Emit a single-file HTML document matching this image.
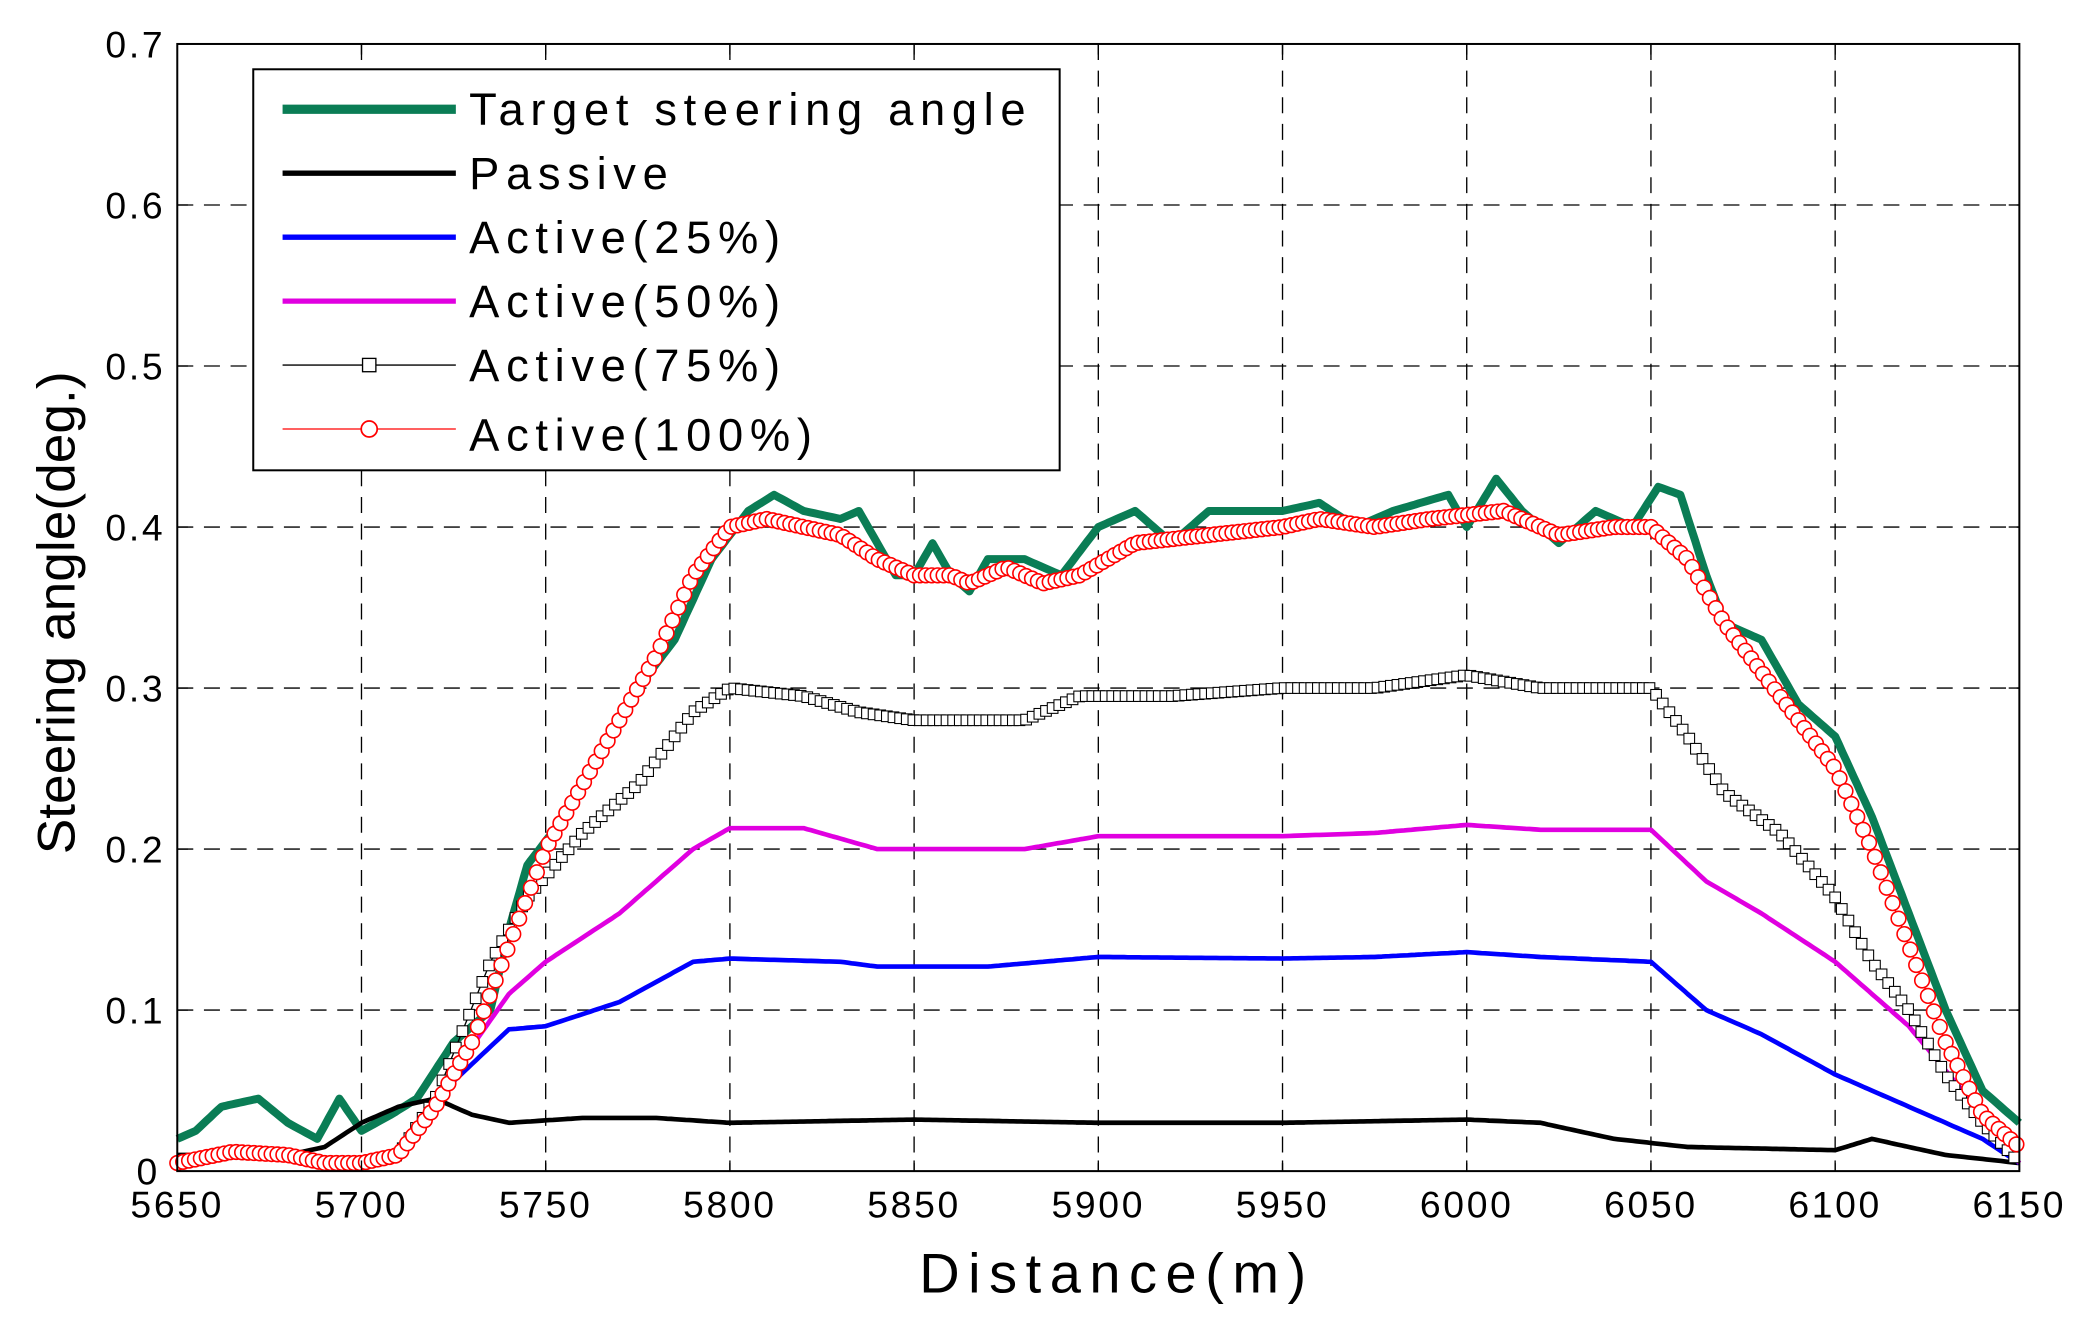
<!DOCTYPE html>
<html><head><meta charset="utf-8"><style>
html,body{margin:0;padding:0;background:#fff}
svg{display:block}
text{font-family:"Liberation Sans",Arial,sans-serif;fill:#000}
</style></head><body>
<svg id="s" width="2090" height="1319" viewBox="0 0 1568 990" preserveAspectRatio="none" xmlns="http://www.w3.org/2000/svg">
<rect x="0" y="0" width="1568" height="990" fill="#fff"/>
<g id="grid"></g>
<g id="series"></g>
<rect x="133" y="33" width="1382" height="846" fill="none" stroke="#000" stroke-width="1.5"/>
<g id="ticks"></g>
<text x="838" y="970" font-size="42" text-anchor="middle" letter-spacing="6.4">Distance(m)</text>
<text transform="translate(56,460) rotate(-90)" font-size="40" text-anchor="middle">Steering angle(deg.)</text>
<g id="legend">
<rect x="190" y="52" width="605" height="301" fill="#fff" stroke="#000" stroke-width="1.5"/>
<line x1="212" y1="82" x2="342" y2="82" stroke="#0a7d55" stroke-width="7"/>
<line x1="212" y1="130" x2="342" y2="130" stroke="#000" stroke-width="4"/>
<line x1="212" y1="178" x2="342" y2="178" stroke="#0000ff" stroke-width="4"/>
<line x1="212" y1="226" x2="342" y2="226" stroke="#e000e0" stroke-width="4"/>
<line x1="212" y1="274" x2="342" y2="274" stroke="#000" stroke-width="1"/>
<rect x="272" y="269" width="10" height="10" fill="#fff" stroke="#000" stroke-width="1"/>
<line x1="212" y1="322" x2="342" y2="322" stroke="#ff0000" stroke-width="1"/>
<circle cx="277" cy="322" r="6" fill="#fff" stroke="#ff0000" stroke-width="1.3"/>
<g font-size="34" letter-spacing="5">
<text x="352" y="94">Target steering angle</text>
<text x="352" y="142">Passive</text>
<text x="352" y="190">Active(25%)</text>
<text x="352" y="238">Active(50%)</text>
<text x="352" y="286">Active(75%)</text>
<text x="352" y="338">Active(100%)</text>
</g>
</g>
</svg>
<script>
const X=v=>133+(v-5650)*1382/500, Y=v=>879-v*846/0.7;
let g='';
for(let i=1;i<10;i++){const x=X(5650+i*50);g+=`<line x1="${x}" y1="33" x2="${x}" y2="879" stroke="#000" stroke-dasharray="12,8" stroke-width="1"/>`;}
for(let i=1;i<7;i++){const y=Y(i*0.1);g+=`<line x1="133" y1="${y}" x2="1515" y2="${y}" stroke="#000" stroke-dasharray="12,8" stroke-width="1"/>`;}
document.getElementById('grid').innerHTML=g;
let t='';
for(let i=0;i<=10;i++){const x=X(5650+i*50);t+=`<text x="${x}" y="914" font-size="28" text-anchor="middle" letter-spacing="2">${5650+i*50}</text><line x1="${x}" y1="879" x2="${x}" y2="871" stroke="#000"/><line x1="${x}" y1="33" x2="${x}" y2="41" stroke="#000"/>`;}
for(let i=0;i<=7;i++){const y=Y(i*0.1);t+=`<text x="${i==0?120:124}" y="${y+10}" font-size="28" text-anchor="end" letter-spacing="2">${i==0?'0':(i/10).toFixed(1)}</text><line x1="133" y1="${y}" x2="141" y2="${y}" stroke="#000"/><line x1="1515" y1="${y}" x2="1507" y2="${y}" stroke="#000"/>`;}
document.getElementById('ticks').innerHTML=t;
const P=a=>{const r=[];for(let i=0;i<a.length;i+=2)r.push([a[i],a[i+1]]);return r;};
const interp=(pts,x)=>{for(let i=0;i<pts.length-1;i++){if(x>=pts[i][0]&&x<=pts[i+1][0]){const f=(x-pts[i][0])/(pts[i+1][0]-pts[i][0]);return pts[i][1]+f*(pts[i+1][1]-pts[i][1]);}}return pts[pts.length-1][1];};
const pre=[5650,0.005,5665,0.012,5680,0.01,5690,0.005,5700,0.005,5710,0.01,5720,0.045];
const target=P([5650,0.02,5655,0.025,5662,0.04,5672,0.045,5680,0.03,5688,0.02,5694,0.045,5700,0.025,5708,0.035,5715,0.045,5725,0.08,5735,0.1,5740,0.15,5745,0.19,5755,0.22,5765,0.26,5775,0.3,5785,0.33,5795,0.38,5805,0.41,5812,0.42,5820,0.41,5830,0.405,5835,0.41,5845,0.37,5850,0.37,5855,0.39,5860,0.37,5865,0.36,5870,0.38,5880,0.38,5890,0.37,5900,0.4,5910,0.41,5920,0.39,5930,0.41,5950,0.41,5960,0.415,5970,0.40,5980,0.41,5995,0.42,6000,0.40,6008,0.43,6015,0.41,6025,0.39,6035,0.41,6045,0.40,6052,0.425,6058,0.42,6065,0.37,6070,0.34,6080,0.33,6090,0.29,6100,0.27,6110,0.22,6120,0.16,6130,0.1,6140,0.05,6150,0.03]);
const red=P([5650,0.005,5665,0.012,5680,0.01,5690,0.005,5700,0.005,5710,0.01,5720,0.04,5730,0.08,5740,0.14,5750,0.2,5760,0.24,5770,0.28,5780,0.32,5790,0.37,5800,0.40,5810,0.405,5830,0.395,5840,0.38,5850,0.37,5860,0.37,5865,0.365,5875,0.375,5885,0.365,5895,0.37,5910,0.39,5930,0.395,5950,0.40,5960,0.405,5975,0.40,5990,0.405,6010,0.41,6025,0.395,6040,0.40,6050,0.40,6060,0.38,6070,0.34,6080,0.31,6090,0.28,6100,0.25,6110,0.20,6120,0.14,6130,0.08,6140,0.035,6150,0.015]);
const sq=P(pre.concat([5735,0.13,5745,0.17,5760,0.21,5775,0.24,5790,0.285,5800,0.3,5820,0.295,5835,0.285,5850,0.28,5865,0.28,5880,0.28,5895,0.295,5920,0.295,5950,0.3,5975,0.3,6000,0.308,6020,0.30,6050,0.30,6060,0.27,6070,0.235,6085,0.21,6100,0.17,6110,0.13,6120,0.1,6130,0.06,6140,0.03,6150,0.005]));
const mag=P(pre.concat([5740,0.11,5750,0.13,5770,0.16,5790,0.2,5800,0.213,5820,0.213,5840,0.2,5860,0.2,5880,0.2,5900,0.208,5950,0.208,5975,0.21,6000,0.215,6020,0.212,6050,0.212,6065,0.18,6080,0.16,6100,0.13,6120,0.09,6140,0.035,6150,0.005]));
const blue=P(pre.concat([5740,0.088,5750,0.09,5770,0.105,5790,0.13,5800,0.132,5830,0.13,5840,0.127,5870,0.127,5900,0.133,5950,0.132,5975,0.133,6000,0.136,6020,0.133,6050,0.13,6065,0.1,6080,0.085,6100,0.06,6120,0.04,6140,0.02,6150,0.005]));
const pas=P([5650,0.01,5680,0.01,5690,0.015,5700,0.03,5710,0.04,5720,0.045,5730,0.035,5740,0.03,5760,0.033,5780,0.033,5800,0.03,5850,0.032,5900,0.03,5950,0.03,6000,0.032,6020,0.03,6040,0.02,6060,0.015,6100,0.013,6110,0.02,6130,0.01,6150,0.005]);
const path=(pts,c,w)=>{let d='';for(let x=5650;x<=6150;x+=1){d+=(x==5650?'M':'L')+X(x).toFixed(1)+','+Y(interp(pts,x)).toFixed(1);}return `<path d="${d}" fill="none" stroke="${c}" stroke-width="${w}" stroke-linejoin="round"/>`;};
let s='';
s+=path(target,'#0a7d55',6);
s+=path(pas,'#000',3.5);
s+=path(blue,'#0000ff',3.5);
s+=path(mag,'#e000e0',3.5);
s+=path(sq,'#000',1);
for(let x=5650;x<=6150;x+=1.8){const y=Y(interp(sq,x));s+=`<rect x="${X(x)-4}" y="${y-4}" width="8" height="8" fill="#fff" stroke="#000" stroke-width="0.8"/>`;}
s+=path(red,'#ff0000',1);
for(let x=5650;x<=6150;x+=1.6){const y=Y(interp(red,x));s+=`<circle cx="${X(x)}" cy="${y}" r="5.5" fill="#fff" stroke="#ff0000" stroke-width="1.2"/>`;}
document.getElementById('series').innerHTML=s;
</script>
</body></html>
